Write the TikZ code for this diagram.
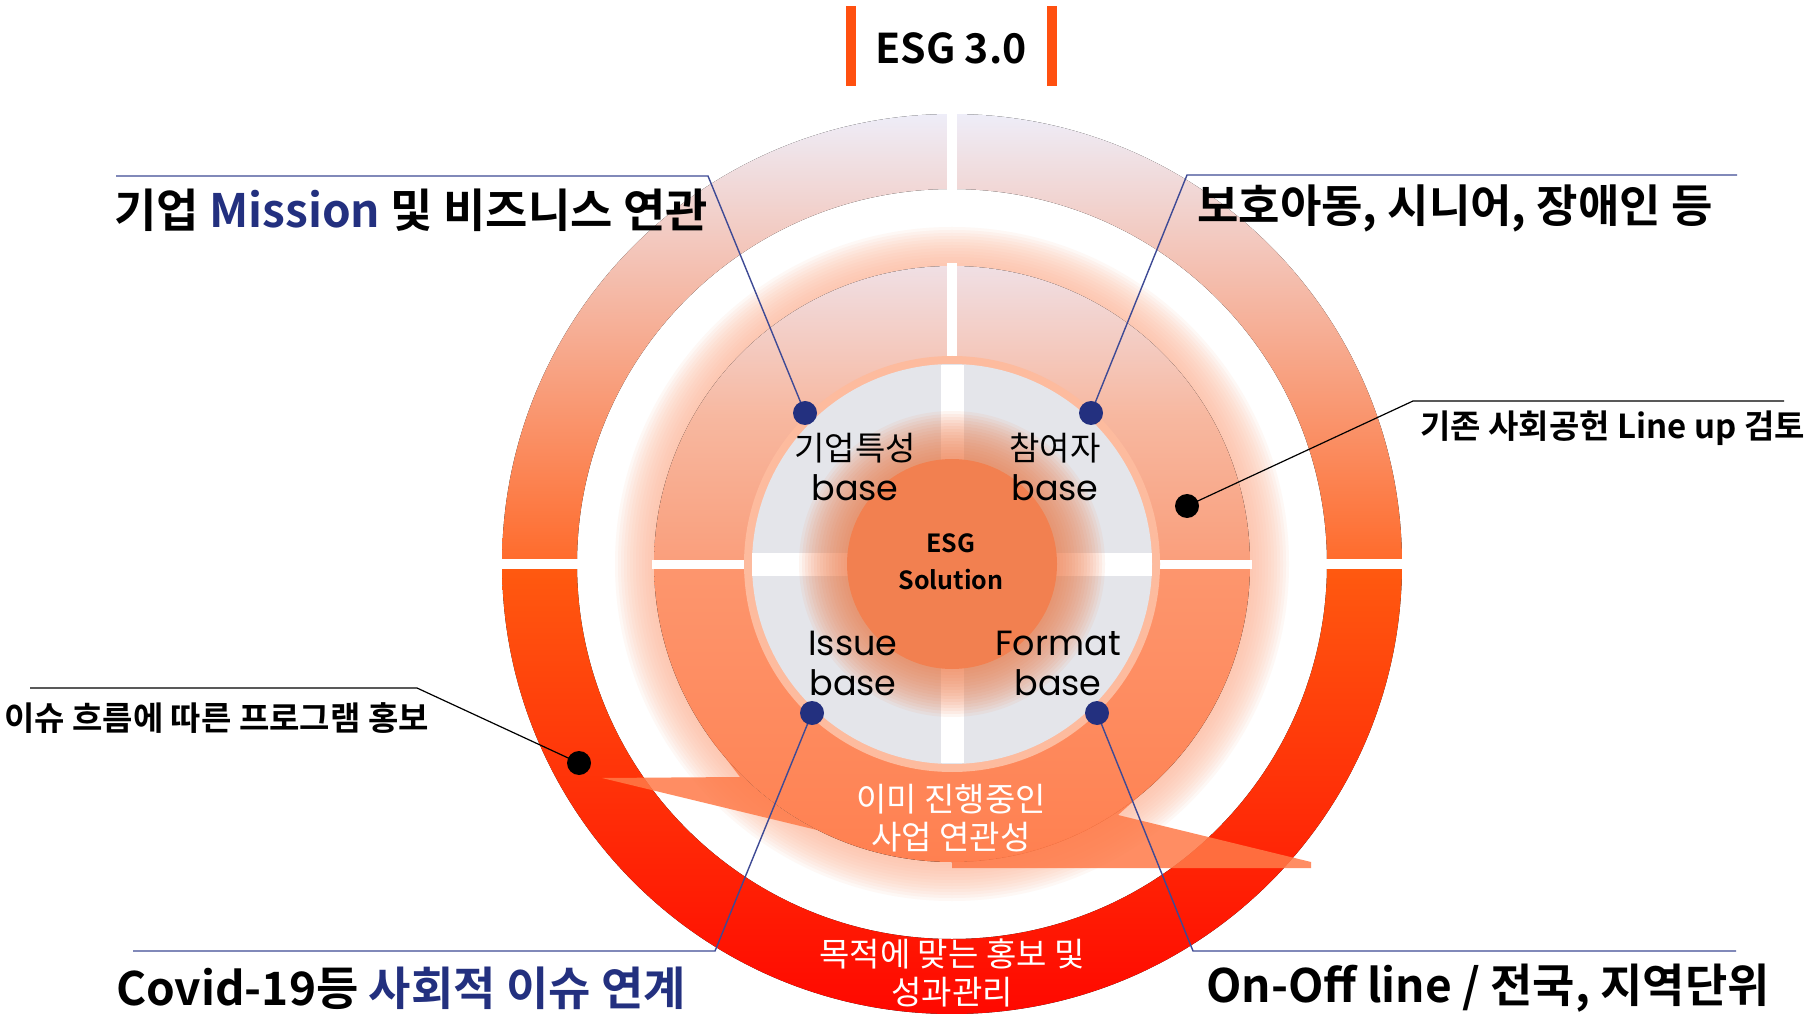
\documentclass[tikz,border=0pt]{standalone}
\usepackage{fontspec}
\usepackage{tikz}
\setmainfont{Noto Sans CJK KR}[BoldFont={Noto Sans CJK KR Bold}]
\newfontfamily\popfont{Poppins}
\definecolor{ringtop}{HTML}{EEEDF8}
\definecolor{ringmid}{HTML}{FF6A2A}
\definecolor{ringlow}{HTML}{FF5A10}
\definecolor{ringbot}{HTML}{FF0800}
\definecolor{disctop}{HTML}{F0DFE4}
\definecolor{discmid}{HTML}{FA9E7B}
\definecolor{discsoft}{HTML}{F7B8A0}
\definecolor{disclow}{HTML}{FD966E}
\definecolor{discbot}{HTML}{FF8050}
\definecolor{peach}{HTML}{FDBB9E}
\definecolor{greyq}{HTML}{E4E5EA}
\definecolor{core}{HTML}{F28050}
\definecolor{callout}{HTML}{FF7A48}
\definecolor{esgnavy}{HTML}{23307F}
\definecolor{leadnavy}{HTML}{3E4A95}
\definecolor{barorange}{HTML}{FF5010}

\begin{document}
\begin{tikzpicture}[x=1pt, y=1pt,
		title/.style = {anchor=west, inner sep=0pt, font=\fontsize{46}{52}\selectfont\bfseries},
		note/.style = {anchor=west, inner sep=0pt, font=\fontsize{33}{38}\selectfont\bfseries},
		quad/.style = {align=center, inner sep=0pt, font=\fontsize{33}{40}\selectfont},
		wtext/.style = {align=center, inner sep=0pt, text=white, font=\fontsize{33}{38}\selectfont},
		navyline/.style = {draw=leadnavy, line width=1.4pt},
		blackline/.style = {draw=black, line width=1.2pt}]
		\useasboundingbox (0,0) rectangle (1819,1013);
		\fill[white] (0,0) rectangle (1819,1013);
		\coordinate (c) at (952,449);
		\begin{scope}
		\fill[top color=ringtop, bottom color=ringmid] (1402,449) arc[start angle=0, end angle=180, radius=450] -- (577,449) arc[start angle=180, end angle=0, radius=375] -- cycle;
		\fill[top color=ringlow, bottom color=ringbot] (1402,449) arc[start angle=0, end angle=-180, radius=450] -- (577,449) arc[start angle=180, end angle=360, radius=375] -- cycle;
		\fill[white] (947,820) rectangle (957,905);
		\fill[white] (495,444) rectangle (585,454);
		\fill[white] (1320,444) rectangle (1410,454);
		\foreach \r in {301,304,...,337} \fill[peach, opacity=.1] (c) circle (\r);
		\fill[top color=disctop, bottom color=discmid, middle color=discsoft] (1250,449) arc[start angle=0, end angle=180, radius=298] -- cycle;
		\fill[top color=disclow, bottom color=discbot] (1250,449) arc[start angle=0, end angle=-180, radius=298] -- cycle;
		\fill[white] (947,655) rectangle (957,750);
		\fill[white] (652,444) rectangle (746,453);
		\fill[white] (1158,444) rectangle (1252,453);
		\fill[callout, opacity=.85] (708,278) -- (740,236) -- (602,235) -- (817,183) arc[start angle=243, end angle=215, radius=298] -- cycle;
		\fill[callout, opacity=.85] (952,145) -- (1311,145) -- (1311,151) -- (1118,198) -- (1159,235) arc[start angle=314, end angle=270, radius=298] -- cycle;
		\fill[peach] (c) circle (208);
		\fill[greyq] (c) circle (200);
		\fill[white] (940.5,250) rectangle (963.5,648);
		\fill[white] (752,437) rectangle (1152,460);
		\foreach \r in {108,111,...,153} \fill[core, opacity=.08] (c) circle (\r);
		\fill[core] (c) circle (105);
		\end{scope}

		\fill[barorange] (846,927) rectangle (856,1007);
		\fill[barorange] (1047,927) rectangle (1057,1007);
		\node[font=\fontsize{41}{48}\selectfont\bfseries] (esg) at (951,965) {ESG 3.0};

		\node[title] (tl) at (114,803) {기업 {\color{esgnavy}Mission} 및 비즈니스 연관};
		\node[title, font=\fontsize{45}{52}\selectfont\bfseries] (tr) at (1197,805) {보호아동, 시니어, 장애인 등};
		\node[title] (bl) at (116,25) {Covid-19등 {\color{esgnavy}사회적 이슈 연계}};
		\node[title] (br) at (1206,25) {On-Off line / 전국, 지역단위};
		\node[note] (nr) at (1420,585) {기존 사회공헌 Line up 검토};
		\node[note] (nl) at (4,295) {이슈 흐름에 따른 프로그램 홍보};

		\node[quad] (q1) at (855,546) {기업특성\\{\popfont\fontsize{35}{40}\selectfont base}};
		\node[quad] (q2) at (1055,546) {참여자\\{\popfont\fontsize{35}{40}\selectfont base}};
		\node[quad, font=\popfont\fontsize{35}{40}\selectfont] (q3) at (853,350) {Issue\\base};
		\node[quad, font=\popfont\fontsize{35}{40}\selectfont] (q4) at (1058,350) {Format\\base};
		\node[align=center, inner sep=0pt, font=\fontsize{25}{37}\selectfont\bfseries] (sol) at (951,451) {ESG\\Solution};
		\node[wtext] (m1) at (951,195) {이미 진행중인\\사업 연관성};
		\node[wtext] (m2) at (952,40) {목적에 맞는 홍보 및\\성과관리};

		\coordinate (d1) at (805,600);
		\coordinate (d2) at (1091,600);
		\coordinate (d3) at (812,300);
		\coordinate (d4) at (1097,300);
		\coordinate (a1) at (708,837);
		\coordinate (a2) at (1187,838);
		\coordinate (a3) at (715,62);
		\coordinate (a4) at (1193,62);
		\coordinate (e1) at (116,837);
		\coordinate (e2) at (1737,838);
		\coordinate (e3) at (133,62);
		\coordinate (e4) at (1736,62);
		\draw[navyline] (d1) -- (a1) -- (e1);
		\draw[navyline] (d2) -- (a2) -- (e2);
		\draw[navyline] (d3) -- (a3) -- (e3);
		\draw[navyline] (d4) -- (a4) -- (e4);
		\foreach \d in {d1,d2,d3,d4} \fill[esgnavy] (\d) circle (12);

		\coordinate (k1) at (1187,507);
		\coordinate (b1) at (1413,612);
		\coordinate (f1) at (1784,612);
		\coordinate (k2) at (579,250);
		\coordinate (b2) at (417,325);
		\coordinate (f2) at (30,325);
		\draw[blackline] (k1) -- (b1) -- (f1);
		\draw[blackline] (k2) -- (b2) -- (f2);
		\fill (k1) circle (12);
		\fill (k2) circle (12);
\end{tikzpicture}
\end{document}
